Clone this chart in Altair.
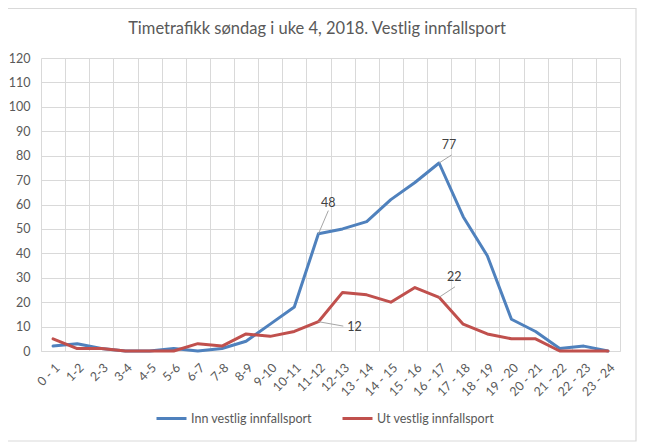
import json
import altair as alt
import pandas as pd

title_text = "Timetrafikk søndag i uke 4, 2018. Vestlig innfallsport"
hours = ["0 - 1", "1-2", "2-3", "3-4", "4-5", "5-6", "6-7", "7-8", "8-9", "9-10",
         "10-11", "11-12", "12-13", "13 - 14", "14 - 15", "15 - 16", "16 - 17",
         "17 - 18", "18 - 19", "19 - 20", "20 - 21", "21 - 22", "22 - 23", "23 - 24"]
inn = [2, 3, 1, 0, 0, 1, 0, 1, 4, 11, 18, 48, 50, 53, 62, 69, 77, 55, 39, 13, 8, 1, 2, 0]
ut = [5, 1, 1, 0, 0, 0, 3, 2, 7, 6, 8, 12, 24, 23, 20, 26, 22, 11, 7, 5, 5, 0, 0, 0]
series = ["Inn vestlig innfallsport", "Ut vestlig innfallsport"]
colors = ["#4F81BD", "#C0504D"]

# data labels: hour index, value, label position (in data units)
ann_idx = [11, 16, 11, 16]
ann_val = [48, 77, 12, 22]
ann_lx = [11.91, 16.91, 12.99, 17.13]
ann_ly = [60.7, 84.2, 10.0, 30.4]
ann_ex = [11.91, 17.02, 12.53, 17.16]
ann_ey = [57.5, 80.3, 10.2, 26.3]

rows = []
for s, vals in zip(series, [inn, ut]):
    for i, v in enumerate(vals):
        rows.append({"x": i + 0.5, "v": v, "serie": s})
df = pd.DataFrame(rows)

ann = pd.DataFrame({
    "px": [i + 0.5 for i in ann_idx], "py": ann_val,
    "lx": ann_lx, "ly": ann_ly, "ex": ann_ex, "ey": ann_ey,
    "t": [str(v) for v in ann_val],
})

FONT = "Lato"
GRAY = "#595959"
GRID = "#d9d9d9"

label_expr = ("datum.value % 1 === 0 ? '' : " + json.dumps(hours) + "[floor(datum.value)]")

xscale = alt.Scale(domain=[0, 24], nice=False, zero=False)
yscale = alt.Scale(domain=[0, 120], nice=False)

xaxis = alt.Axis(
    values=[k / 2 for k in range(2 * len(hours) + 1)], tickCount=200,
    labelExpr=label_expr, labelAngle=-45,
    grid=True, gridColor=GRID,
    gridOpacity={"condition": {"test": "datum.value % 1 === 0", "value": 1}, "value": 0},
    ticks=False, domain=True, domainColor=GRID, labelPadding=10,
    labelColor=GRAY, labelFontSize=12.5, labelFont=FONT, title=None,
    labelOverlap=False, labelBound=False, labelFlush=False,
)
yaxis = alt.Axis(
    values=list(range(0, 121, 10)), tickCount=200, format="d", grid=True,
    gridColor=GRID, ticks=False, domain=False, labelPadding=11, labelColor=GRAY,
    labelFontSize=12.5, labelFont=FONT, title=None, labelOverlap=False,
)

lines = alt.Chart(df).mark_line(strokeWidth=3, strokeJoin="round", strokeCap="round").encode(
    x=alt.X("x:Q", scale=xscale, axis=xaxis),
    y=alt.Y("v:Q", scale=yscale, axis=yaxis),
    color=alt.Color("serie:N", scale=alt.Scale(domain=series, range=colors),
                    legend=alt.Legend(
                        orient="none", legendX=114, legendY=344, direction="horizontal",
                        title=None, symbolType="stroke", symbolStrokeWidth=3,
                        symbolSize=900, labelFont=FONT, labelFontSize=12.5,
                        labelColor=GRAY, labelOffset=3, columnPadding=24)),
)

leaders = alt.Chart(ann).mark_rule(color="#a6a6a6", strokeWidth=1).encode(
    x=alt.X("px:Q", scale=xscale), y=alt.Y("py:Q", scale=yscale),
    x2="ex:Q", y2="ey:Q",
)
texts = alt.Chart(ann).mark_text(font=FONT, fontSize=12.5, color="#404040").encode(
    x=alt.X("lx:Q", scale=xscale), y=alt.Y("ly:Q", scale=yscale), text="t:N",
)

one = pd.DataFrame({"t": [title_text]})
border = alt.Chart(one).mark_rect(
    filled=False, stroke=GRID, strokeWidth=1.2, fillOpacity=0
).encode(x=alt.value(-45), x2=alt.value(595), y=alt.value(-49.5), y2=alt.value(383))

title = alt.Chart(one).mark_text(
    font=FONT, fontSize=16.5, color=GRAY, align="center", baseline="middle"
).encode(text="t:N", x=alt.value(276), y=alt.value(-29))

chart = alt.layer(border, title, lines, leaders, texts).properties(
    width=579, height=293,
    autosize=alt.AutoSizeParams(type="none"),
    padding={"left": 33, "top": 50, "right": 17, "bottom": 95},
).configure_view(stroke=None)

chart.save("out.html", embed_options={"renderer": "svg", "actions": False})
